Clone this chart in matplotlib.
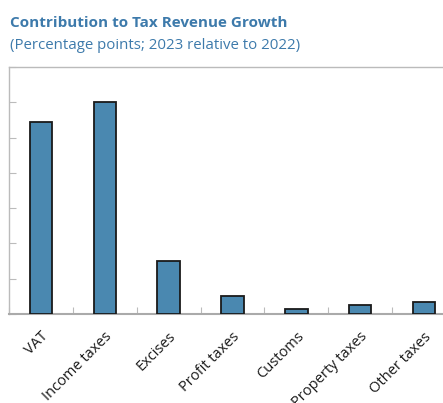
import matplotlib
matplotlib.use("Agg")
import matplotlib.pyplot as plt
import numpy as np

categories = ["VAT", "Income taxes", "Excises", "Profit taxes", "Customs", "Property taxes", "Other taxes"]
values = [5.43, 6.02, 1.5, 0.5, 0.14, 0.26, 0.33]
yticks = [0, 1, 2, 3, 4, 5, 6, 7]

plt.rcParams['font.family'] = ['Open Sans', 'DejaVu Sans']

W, H = 443, 403
fig = plt.figure(figsize=(W/100, H/100), dpi=100)
left, right, top, bottom = 9, 456, 67, 314
ax = fig.add_axes([left/W, 1-bottom/H, (right-left)/W, (bottom-top)/H])

x = np.arange(len(categories))
ax.bar(x, values, width=0.35, color='#4a88b0', edgecolor='#1a1a1a', linewidth=1.3, zorder=3)

ax.set_xlim(-0.5, len(categories)-0.5)
ax.set_ylim(0, 7)
ax.set_yticks(yticks)
ax.set_yticklabels([])
ax.set_xticks(x)
ax.set_xticklabels(categories, rotation=45, ha='right', rotation_mode='anchor',
                   fontsize=10.5, color='#1a1a1a')
ax.set_xticks(np.arange(len(categories)+1)-0.5, minor=True)
ax.tick_params(axis='x', which='major', length=0, pad=11)
ax.tick_params(axis='x', which='minor', direction='in', length=5, color='#bbbbbb', width=0.8)
ax.tick_params(axis='y', direction='in', length=5, color='#bbbbbb', width=0.8)
for s in ['left', 'top']:
    ax.spines[s].set_color('#bbbbbb')
    ax.spines[s].set_linewidth(1.0)
ax.spines['bottom'].set_color('#aaaaaa')
ax.spines['bottom'].set_linewidth(1.5)
ax.spines['right'].set_visible(False)

fig.text(10/W, 1-27/H, "Contribution to Tax Revenue Growth", fontsize=11, fontweight='bold',
         color='#3d7aab', ha='left', va='baseline')
fig.text(10/W, 1-49/H, "(Percentage points; 2023 relative to 2022)", fontsize=10.8,
         color='#3d7aab', ha='left', va='baseline')

fig.savefig("out.png", dpi=100)
